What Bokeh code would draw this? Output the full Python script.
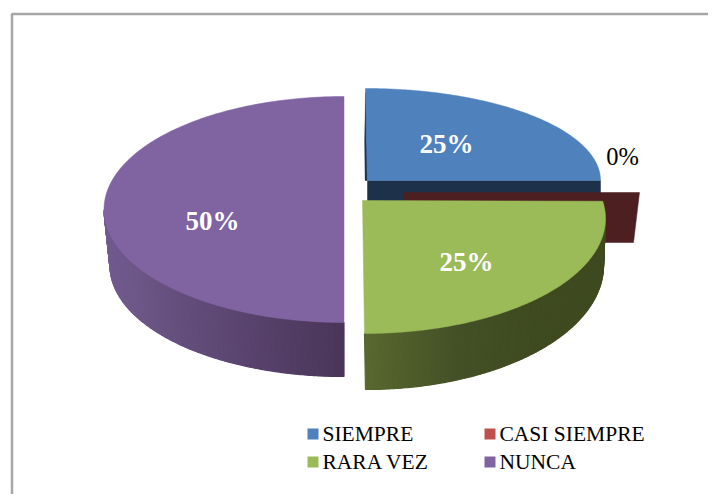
import numpy as np
from bokeh.plotting import figure
from bokeh.models import Range1d
from bokeh.embed import file_html
from bokeh.resources import INLINE
from bokeh.core.properties import value

categories = ["SIEMPRE", "CASI SIEMPRE", "RARA VEZ", "NUNCA"]
values = [25, 0, 25, 50]
labels = ["25%", "0%", "25%", "50%"]
colors = ["#4f81bd", "#c0504d", "#9bbb59", "#8064a2"]

W, H = 708, 494


def ang(v0, v1, n=160):
    """Screen angle (0 at 12 o'clock, clockwise) for a span of percentage values."""
    return np.linspace(v0, v1, n) / 100 * 2 * np.pi


def ell(c, t):
    return c[0] + c[2] * np.sin(t), c[1] - c[3] * np.cos(t)


def blend(a, b, f):
    a = [int(a[i:i + 2], 16) for i in (1, 3, 5)]
    b = [int(b[i:i + 2], 16) for i in (1, 3, 5)]
    return "#%02x%02x%02x" % tuple(round(x + (y - x) * f) for x, y in zip(a, b))


p = figure(width=W, height=H, output_backend="svg", toolbar_location=None,
           x_range=Range1d(0, W), y_range=Range1d(H, 0),
           min_border=0, outline_line_color=None)
p.axis.visible = False
p.grid.visible = False


def poly(x, y, color, lw=0.5):
    p.patch(list(x), list(y), fill_color=color, line_color=color, line_width=lw)


def wall(top, bot, t, stops):
    """Shaded side wall: thin strips between the top and the bottom rim."""
    xt, yt = ell(top, t)
    xb, yb = ell(bot, t)
    n = len(t) - 1
    for i in range(n):
        f = i / max(n - 1, 1) * (len(stops) - 1)
        k = min(int(f), len(stops) - 2)
        c = blend(stops[k], stops[k + 1], f - k)
        poly([xt[i], xt[i + 1], xb[i + 1], xb[i]],
             [yt[i], yt[i + 1], yb[i + 1], yb[i]], c, lw=1.2)


cum = np.cumsum([0] + values)
blue_t = ang(cum[0], cum[1])
purple_t = ang(cum[3], cum[4])

# frame: open to the right and below the page
p.quad(left=11.5, right=730, top=13.5, bottom=520, fill_color="white",
       line_color="#a6a6a6", line_width=2.5)

# NUNCA
c_pur = (343.5, 209, 240, 113)
c_pur_b = (343.5, 265, 234, 111)
wall(c_pur, c_pur_b, ang(50, 75), ["#4a3659", "#5d4773", "#6d5788", "#735b90"])
x, y = ell(c_pur, purple_t)
poly(np.r_[x, 343.5], np.r_[y, 209], colors[3])

# SIEMPRE
c_blu = (365, 180, 235, 92)
poly([367, 600, 600, 367], [180, 180, 205, 205], "#1d324a")
x, y = ell(c_blu, blue_t)
poly(np.r_[x, 365], np.r_[y, 180], colors[0])
poly([365, 364, 364.5, 366.5, 365.5], [92, 140, 180, 180, 140], "#1d324a", lw=0.2)

# CASI SIEMPRE: zero-size slice, only its dark cut faces show
poly([403, 639, 633, 403], [192, 192, 242, 242], "#4d1f20")

# RARA VEZ
c_gre = (364, 218, 241, 115)
c_gre_b = (365, 265, 238, 124)
wall(c_gre, c_gre_b, ang(25, 50), ["#3f4a20", "#3f4a20", "#3f4a20", "#445026", "#58682f"])
gx, gy = ell(c_gre, ang(22.6, 50))
poly(np.r_[362, gx], np.r_[200, gy], colors[2])

# data labels
serif = value("Liberation Serif")
for tx, ty, i, col, sz, st in [(446, 143, 0, "white", "27px", "bold"),
                               (622, 156, 1, "black", "24.5px", "normal"),
                               (466, 261, 2, "white", "27px", "bold"),
                               (212, 220, 3, "white", "27px", "bold")]:
    p.text([tx], [ty], text=[labels[i]], text_color=col, text_font=serif,
           text_font_size=sz, text_font_style=st, text_align="center",
           text_baseline="middle")

# legend
lx = [307, 484, 307, 484]
ly = [433.5, 433.5, 461.5, 461.5]
for i in range(4):
    p.quad(left=lx[i], right=lx[i] + 11, top=ly[i] - 5.5, bottom=ly[i] + 5.5,
           fill_color=colors[i], line_color=None)
    p.text([lx[i] + 15], [ly[i] - 0.5], text=[categories[i]], text_color="black",
           text_font=serif, text_font_size="21.5px", text_align="left",
           text_baseline="middle")

open("out.html", "w").write(file_html(p, INLINE))
